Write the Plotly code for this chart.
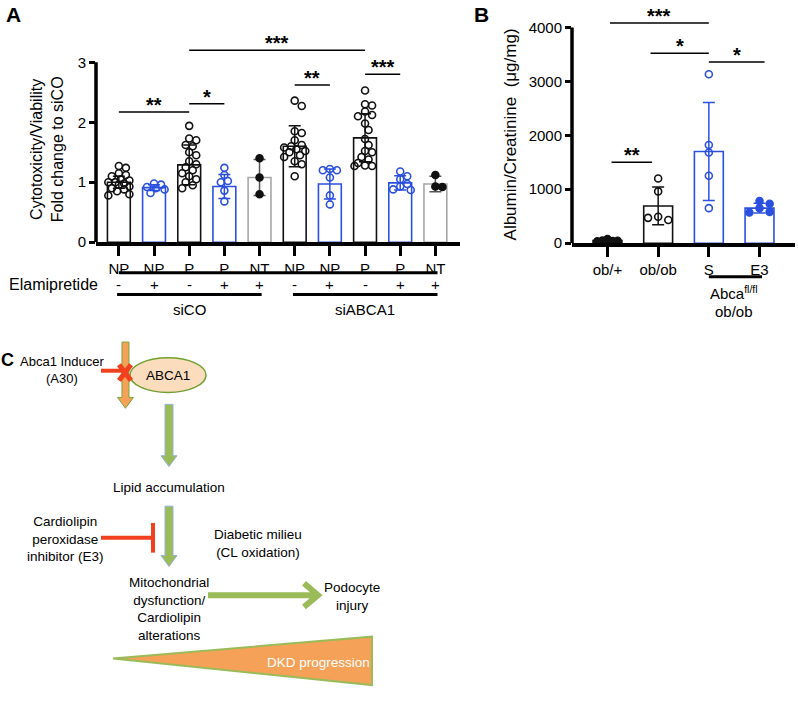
import plotly.graph_objects as go
import math

# ---------------- DATA ----------------
# Panel A
cats_A = ["NP", "NP", "P", "P", "NT", "NP", "NP", "P", "P", "NT"]
elami_A = ["-", "+", "-", "+", "+", "-", "+", "-", "+", "+"]
means_A = [1.00, 0.91, 1.29, 0.93, 1.08, 1.60, 0.97, 1.74, 0.99, 0.97]
sd_A = [0.10, 0.05, 0.33, 0.20, 0.30, 0.34, 0.25, 0.40, 0.12, 0.13]
pts_A0 = [1.27, 1.24, 1.15, 1.12, 1.10, 1.05, 1.03, 1.00, 1.00, 0.98, 0.96, 0.93, 0.90, 0.88, 0.85, 0.80, 0.78]
pts_A1 = [0.98, 0.96, 0.92, 0.90, 0.88, 0.82]
pts_A2 = [1.94, 1.73, 1.70, 1.62, 1.60, 1.50, 1.45, 1.35, 1.30, 1.25, 1.20, 1.15, 1.10, 1.05, 1.00, 0.95, 0.90]
pts_A3 = [1.24, 1.12, 1.02, 1.00, 0.86, 0.68]
pts_A4 = [1.40, 1.08, 0.80]
pts_A5 = [2.36, 2.27, 1.85, 1.82, 1.70, 1.62, 1.60, 1.58, 1.55, 1.52, 1.50, 1.45, 1.42, 1.35, 1.30, 1.10]
pts_A6 = [1.22, 1.20, 1.20, 1.08, 0.78, 0.63]
pts_A7 = [2.53, 2.30, 2.28, 2.18, 2.12, 2.10, 1.98, 1.87, 1.72, 1.62, 1.52, 1.50, 1.42, 1.38, 1.32, 1.28, 1.27, 1.27]
pts_A8 = [1.18, 1.10, 1.05, 0.97, 0.93, 0.88, 0.87]
pts_A9 = [1.12, 0.93, 0.92]
pts_A = [pts_A0, pts_A1, pts_A2, pts_A3, pts_A4, pts_A5, pts_A6, pts_A7, pts_A8, pts_A9]
yticks_A = [0, 1, 2, 3]
sig_A = [(0, 2, 2.17, "**"), (2, 3, 2.31, "*"), (2, 7, 3.20, "***"), (5, 6, 2.62, "**"), (7, 8, 2.80, "***")]
groups_A = [("siCO", 0, 4), ("siABCA1", 5, 9)]

# Panel B
cats_B = ["ob/+", "ob/ob", "S", "E3"]
means_B = [50, 690, 1700, 650]
sd_B = [15, 350, 910, 90]
pts_B0 = [75, 45, 35, 40, 50]
pts_B1 = [1200, 960, 490, 430, 470]
pts_B2 = [3130, 1820, 1680, 1250, 650]
pts_B3 = [780, 730, 650, 580, 570]
pts_B = [pts_B0, pts_B1, pts_B2, pts_B3]
yticks_B = [0, 1000, 2000, 3000, 4000]
sig_B = [(0.05, 2.0, 4080, "***"), (0.85, 2.0, 3520, "*"), (2.0, 3.1, 3360, "*"), (0.08, 0.88, 1500, "**")]

# ---------------- STYLE ----------------
W, H = 798, 701
BLACK = "#111111"
BLUE = "#2b50e0"
GRAY = "#a6a6a6"
style_A = [BLACK, BLUE, BLACK, BLUE, GRAY, BLACK, BLUE, BLACK, BLUE, GRAY]
ptcol_A = [BLACK, BLUE, BLACK, BLUE, BLACK, BLACK, BLUE, BLACK, BLUE, BLACK]
filled_A = [False, False, False, False, True, False, False, False, False, True]
style_B = [BLACK, BLACK, BLUE, BLUE]
filled_B = [True, False, False, True]
FONT = "Liberation Sans, Arial, Helvetica, sans-serif"
NARROW = "Liberation Sans Narrow, Liberation Sans, Arial, sans-serif"

def PX(x):
    return x / W

def PY(y):
    return 1 - y / H

# axis geometry (pixels)
A_x0, A_x1 = 96, 460
A_rng = [-0.65, 9.7]
A_y0px, A_y3px = 245, 63
A_ymax = 3.45
A_ppu = (A_y0px - A_y3px) / 3.0
A_ytop = A_y0px - A_ymax * A_ppu
A_xppu = (A_x1 - A_x0) / (A_rng[1] - A_rng[0])

B_x0, B_x1 = 572, 795
B_rng = [-0.7, 3.7]
B_y0px, B_y4px = 246, 27.7
B_ymax = 4300
B_ppu = (B_y0px - B_y4px) / 4000.0
B_ytop = B_y0px - B_ymax * B_ppu
B_xppu = (B_x1 - B_x0) / (B_rng[1] - B_rng[0])

def xA(c):
    return A_x0 + (c - A_rng[0]) * A_xppu

def xB(c):
    return B_x0 + (c - B_rng[0]) * B_xppu


def swarm(vals, xppu, yppu, d=7.0):
    cands = [0, 0.1, -0.1, 0.2, -0.2, 0.3, -0.3, 0.05, -0.05, 0.15, -0.15, 0.25, -0.25]
    placed = []
    offs = []
    for v in vals:
        best, bestd = 0, -1
        for o in cands:
            md = min([math.hypot((o - po) * xppu, (v - pv) * yppu) for po, pv in placed] or [99])
            if md >= d:
                best = o
                bestd = md
                break
            if md > bestd:
                best, bestd = o, md
        placed.append((best, v))
        offs.append(best)
    return offs


fig = go.Figure()

# ---- Panel A bars ----
for i in range(len(cats_A)):
    fig.add_trace(go.Bar(
        x=[i], y=[means_A[i]], width=0.65,
        marker=dict(color="white", line=dict(color=style_A[i], width=1.6)),
        error_y=dict(type="data", array=[sd_A[i]], color=style_A[i] if style_A[i] != GRAY else "#555555",
                     thickness=1.5, width=6),
        xaxis="x", yaxis="y", showlegend=False, hoverinfo="skip"))
for i, vals in enumerate(pts_A):
    offs = swarm(vals, A_xppu, A_ppu)
    fig.add_trace(go.Scatter(
        x=[i + o for o in offs], y=vals, mode="markers",
        marker=dict(symbol="circle" if filled_A[i] else "circle-open", size=7,
                    color=ptcol_A[i], line=dict(color=ptcol_A[i], width=1.6)),
        xaxis="x", yaxis="y", showlegend=False, cliponaxis=False, hoverinfo="skip"))

# ---- Panel B bars ----
for i in range(len(cats_B)):
    fig.add_trace(go.Bar(
        x=[i], y=[means_B[i]], width=0.57,
        marker=dict(color="white", line=dict(color=style_B[i], width=1.6)),
        error_y=dict(type="data", array=[sd_B[i]], color=style_B[i], thickness=1.5, width=6),
        xaxis="x2", yaxis="y2", showlegend=False, hoverinfo="skip"))
for i, vals in enumerate(pts_B):
    offs = swarm(vals, B_xppu, B_ppu)
    fig.add_trace(go.Scatter(
        x=[i + o for o in offs], y=vals, mode="markers",
        marker=dict(symbol="circle" if filled_B[i] else "circle-open", size=7,
                    color=style_B[i], line=dict(color=style_B[i], width=1.6)),
        xaxis="x2", yaxis="y2", showlegend=False, cliponaxis=False, hoverinfo="skip"))

shapes = []
ann = []

def ptext(x, y, t, size=15, family=FONT, color="black", angle=0):
    ann.append(dict(x=PX(x), y=PY(y), xref="paper", yref="paper", text=t, showarrow=False,
                    xanchor="center", yanchor="middle", textangle=angle,
                    font=dict(size=size, color=color, family=family)))

# y axis lines (stop at top tick)
shapes.append(dict(type="line", xref="x domain", yref="y", x0=0, x1=0, y0=0, y1=3,
                   line=dict(color="black", width=3.5)))
shapes.append(dict(type="line", xref="x2 domain", yref="y2", x0=0, x1=0, y0=0, y1=4000,
                   line=dict(color="black", width=3.5)))

# significance brackets
for (xr, yr, sig) in [("x", "y", sig_A), ("x2", "y2", sig_B)]:
    for a, b, y, s in sig:
        shapes.append(dict(type="line", xref=xr, yref=yr, x0=a, x1=b, y0=y, y1=y,
                           line=dict(color="black", width=1.5)))
        ann.append(dict(x=(a + b) / 2, y=y, xref=xr, yref=yr, text="<b>" + s + "</b>",
                        showarrow=False, xanchor="center", yanchor="bottom", yshift=-6,
                        font=dict(size=20, color="black", family=FONT)))

# below axis A
shapes.append(dict(type="line", xref="paper", yref="paper", x0=PX(xA(0)), x1=PX(xA(9.06)),
                   y0=PY(276), y1=PY(276), line=dict(color="black", width=3)))
ptext(53, 288, "Elamipretide", size=16)
for i, s in enumerate(elami_A):
    ptext(xA(i), 288, s, size=15)
for name, a, b in groups_A:
    shapes.append(dict(type="line", xref="paper", yref="paper", x0=PX(xA(a - 0.05)), x1=PX(xA(b + 0.06)),
                       y0=PY(298), y1=PY(298), line=dict(color="black", width=3)))
    ptext(xA((a + b) / 2), 313, name, size=15)

# titles / panel letters
ptext(47, 151, "Cytotoxicity/Viability<br>Fold change to siCO", size=16, angle=-90)
ptext(510, 136, "Albumin/Creatinine  (\u03bcg/mg)", size=17, angle=-90)
ptext(13, 15, "<b>A</b>", size=21)
ptext(481, 15, "<b>B</b>", size=21)

# below axis B
shapes.append(dict(type="line", xref="paper", yref="paper", x0=PX(xB(2.0)), x1=PX(xB(3.05)),
                   y0=PY(280), y1=PY(280), line=dict(color="black", width=3)))
ptext(xB(2.5), 296, "Abca<sup>fl/fl</sup>", size=15)
ptext(xB(2.5), 315, "ob/ob", size=15)

# ---------------- Panel C diagram ----------------
def path(pts):
    return "M " + " L ".join(f"{PX(x):.5f},{PY(y):.5f}" for x, y in pts) + " Z"

ORANGE = "#F6A158"
GREEN = "#9BBB59"
RED = "#F0401E"
CSIZE = 13.5

ptext(7, 364, "<b>C</b>", size=18)

# DKD triangle
shapes.append(dict(type="path", xref="paper", yref="paper",
                   path=path([(113, 666), (372, 644), (372, 693)]),
                   fillcolor=ORANGE, line=dict(color=GREEN, width=2)))

# orange down arrow
shapes.append(dict(type="path", xref="paper", yref="paper",
                   path=path([(122, 346), (129, 346), (129, 402), (133.5, 402), (125.5, 413),
                              (117.5, 402), (122, 402)]),
                   fillcolor=ORANGE, line=dict(color="#7aa53c", width=1)))
# ABCA1 ellipse
shapes.append(dict(type="circle", xref="paper", yref="paper", x0=PX(130), x1=PX(206),
                   y0=PY(397), y1=PY(362), fillcolor="#FBDCBD", line=dict(color="#6fa030", width=1.5)))
# red inhibitor line + X
shapes.append(dict(type="line", xref="paper", yref="paper", x0=PX(101), x1=PX(124), y0=PY(375), y1=PY(375),
                   line=dict(color=RED, width=4)))
shapes.append(dict(type="line", xref="paper", yref="paper", x0=PX(119), x1=PX(131), y0=PY(369), y1=PY(385),
                   line=dict(color=RED, width=5)))
shapes.append(dict(type="line", xref="paper", yref="paper", x0=PX(131), x1=PX(119), y0=PY(369), y1=PY(385),
                   line=dict(color=RED, width=5)))

# green down arrows
for top, bot in [(409, 472), (512, 573)]:
    hs = bot - 11
    shapes.append(dict(type="path", xref="paper", yref="paper",
                       path=path([(165, top), (173, top), (173, hs), (177, hs), (169, bot),
                                  (161, hs), (165, hs)]),
                       fillcolor=GREEN, line=dict(color="#95B3D7", width=1)))

# red T-bar
shapes.append(dict(type="line", xref="paper", yref="paper", x0=PX(101), x1=PX(153), y0=PY(544), y1=PY(544),
                   line=dict(color=RED, width=4)))
shapes.append(dict(type="line", xref="paper", yref="paper", x0=PX(153), x1=PX(153), y0=PY(529), y1=PY(559),
                   line=dict(color=RED, width=4)))

# green horizontal arrow
shapes.append(dict(type="line", xref="paper", yref="paper", x0=PX(208), x1=PX(316), y0=PY(602), y1=PY(602),
                   line=dict(color=GREEN, width=6)))
shapes.append(dict(type="path", xref="paper", yref="paper",
                   path="M %.5f,%.5f L %.5f,%.5f L %.5f,%.5f" % (PX(304), PY(590), PX(318), PY(602), PX(304), PY(614)),
                   line=dict(color=GREEN, width=6)))

ptext(62, 374, "Abca1 Inducer<br>(A30)", size=13, family=NARROW)
ptext(168, 380, "ABCA1", size=CSIZE, family=NARROW)
ptext(169, 493, "Lipid accumulation", size=CSIZE, family=NARROW)
ptext(65, 545, "Cardiolipin<br>peroxidase<br>inhibitor (E3)", size=CSIZE, family=NARROW)
ptext(258, 550, "Diabetic milieu<br>(CL oxidation)", size=CSIZE, family=NARROW)
ptext(169, 616, "Mitochondrial<br>dysfunction/<br>Cardiolipin<br>alterations", size=CSIZE, family=NARROW)
ptext(352, 603, "Podocyte<br>injury", size=CSIZE, family=NARROW)
ptext(318, 670, "DKD progression", size=CSIZE, family=NARROW, color="white")

axis_common = dict(showgrid=False, zeroline=False, ticks="outside", tickcolor="black",
                   tickfont=dict(size=15, color="black", family=FONT), fixedrange=True)

fig.update_layout(
    width=W, height=H, margin=dict(l=0, r=0, t=0, b=0),
    paper_bgcolor="white", plot_bgcolor="white",
    barmode="overlay", showlegend=False,
    font=dict(family=FONT, color="black"),
    xaxis=dict(domain=[PX(A_x0), PX(A_x1)], range=A_rng, anchor="y",
               tickvals=list(range(len(cats_A))), ticktext=cats_A,
               showline=True, linewidth=3.5, linecolor="black", ticklen=10, tickwidth=3, **axis_common),
    yaxis=dict(domain=[PY(A_y0px), PY(A_ytop)], range=[0, A_ymax], anchor="x",
               tickvals=yticks_A, showline=False, ticklen=6, tickwidth=3, **axis_common),
    xaxis2=dict(domain=[PX(B_x0), PX(B_x1)], range=B_rng, anchor="y2",
                tickvals=list(range(len(cats_B))), ticktext=cats_B,
                showline=True, linewidth=3.5, linecolor="black", ticklen=10, tickwidth=3, **axis_common),
    yaxis2=dict(domain=[PY(B_y0px), PY(B_ytop)], range=[0, B_ymax], anchor="x2",
                tickvals=yticks_B, showline=False, ticklen=6, tickwidth=3, **axis_common),
    shapes=shapes, annotations=ann,
)

fig.write_html("out.html", config={"displayModeBar": False},
               post_script="document.body.style.margin='0px';")
